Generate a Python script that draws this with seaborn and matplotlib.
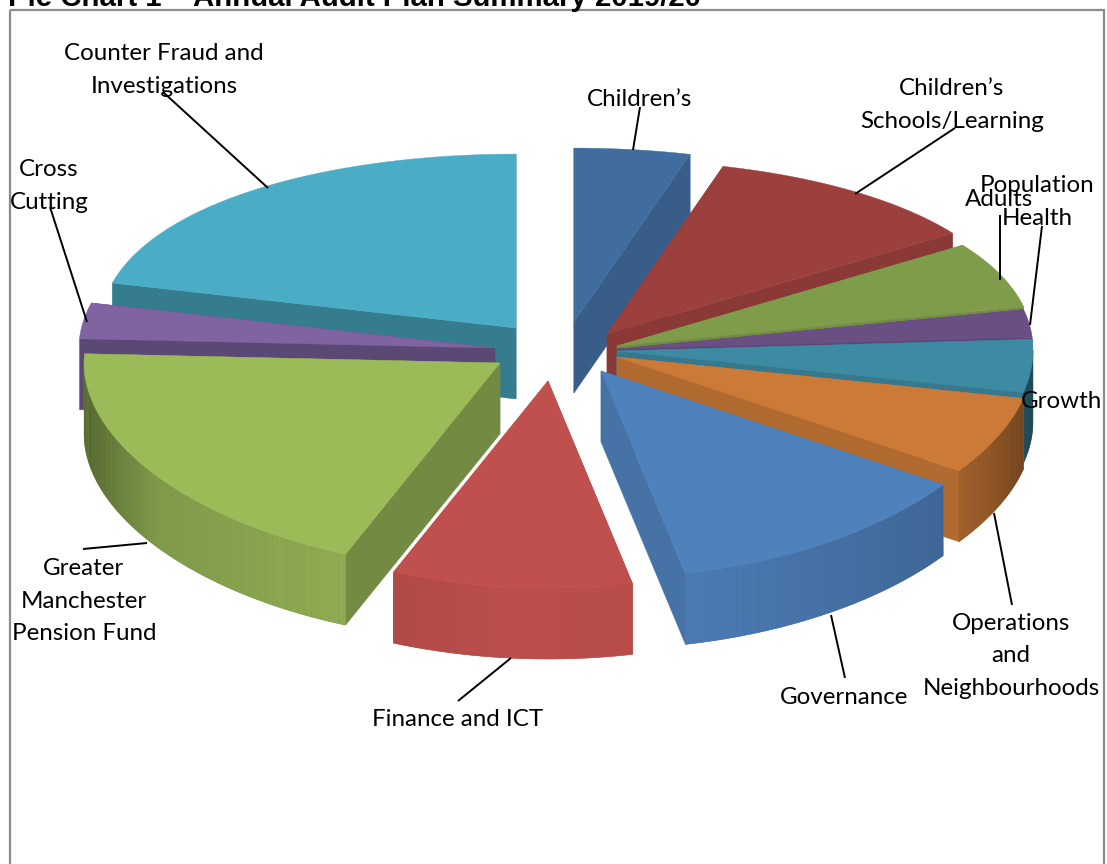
import numpy as np
import matplotlib
matplotlib.use("Agg")
import matplotlib.pyplot as plt
from matplotlib.collections import PolyCollection
from matplotlib.colors import to_rgb
from matplotlib.patches import Rectangle
import seaborn as sns

# Share of the audit plan per area (percent), clockwise from 12 o'clock
AREAS = ["Children's", "Children's Schools/Learning", "Adults", "Population Health",
         "Growth", "Operations and Neighbourhoods", "Governance", "Finance and ICT",
         "Greater Manchester Pension Fund", "Cross Cutting", "Counter Fraud and Investigations"]
SHARES = [4.5, 11.1, 6.0, 2.4, 4.4, 6.2, 12.1, 9.3, 19.7, 3.1, 21.1]

# Slice appearance
TOP_COLOURS = ["#406C9E", "#9C403E", "#7F9C4A", "#6A4F85", "#3D8AA3", "#CB7A37",
               "#4F81BD", "#C0504D", "#9BBB59", "#8064A2", "#4BACC6"]
WALL_SHADE = [0.86, 0.89, 0.90, 0.88, 0.88, 0.87, 0.88, 0.90, 0.74, 0.72, 0.72]
# Sideways and vertical pull of each exploded slice, in pixels
PULL_X = [14, 47, 57, 57, 57, 57, 41, -12, -60, -65, -44]
PULL_Y = [-28, -16, -4, -1, 1, 7, 21, 31, 13, -2, -22]
# Back-to-front drawing order
DRAW_ORDER = [0, 10, 1, 2, 3, 4, 5, 9, 8, 7, 6]

LABELS = [
    ("Counter Fraud and\nInvestigations", 164, 70),
    ("Children\u2019s", 640, 99),
    ("Children\u2019s\nSchools/Learning", 952, 105),
    ("Population\nHealth", 1037, 202),
    ("Adults", 999, 200),
    ("Growth", 1061, 402),
    ("Operations\nand\nNeighbourhoods", 1011, 656),
    ("Governance", 844, 697),
    ("Finance and ICT", 458, 720),
    ("Greater\nManchester\nPension Fund", 84, 601),
    ("Cross\nCutting", 49, 186),
]
LEADERS = [
    ((163, 92), (268, 188)), ((50, 207), (87, 322)), ((83, 549), (147, 543)),
    ((458, 701), (511, 658)), ((845, 678), (831, 615)), ((1012, 605), (994, 513)),
    ((1042, 226), (1030, 325)), ((1000, 215), (1000, 280)), ((955, 128), (855, 194)),
    ((640, 107), (633, 150)),
]

CX, CY = 560, 350
RX, RY = 416, 190.5
TILT = 0.087      # makes the near rim larger than the far rim
DEPTH = 71

sns.set_theme(style="white")
palette = sns.color_palette(TOP_COLOURS)

fig = plt.figure(figsize=(11.07, 8.64), dpi=100)
ax = fig.add_axes([0, 0, 1, 1])
ax.set_xlim(0, 1107)
ax.set_ylim(864, 0)
ax.axis("off")


def rim(theta_deg, ox, oy):
    t = np.radians(theta_deg)
    c = np.cos(t)
    return ox + RX * np.sin(t), oy - RY * c * (1 - TILT * c)


def rim_light(theta_deg):
    # Lighting of the curved wall: brightest at the front, dark at the sides
    return np.interp(theta_deg, [90, 105, 123, 168, 185, 201, 225, 235, 243, 254, 270],
                     [0.5, 0.58, 0.78, 0.95, 0.98, 0.92, 0.85, 0.82, 0.72, 0.6, 0.48])


shares = np.array(SHARES, dtype=float)
edges = np.concatenate([[0], np.cumsum(shares / shares.sum() * 360)])

for i in DRAW_ORDER:
    layer = 1 + DRAW_ORDER.index(i)
    base = np.array(to_rgb(palette[i]))
    ox, oy = CX + PULL_X[i], CY + PULL_Y[i]
    thetas = np.linspace(edges[i], edges[i + 1], max(8, int(edges[i + 1] - edges[i])))
    xs, ys = rim(thetas, ox, oy)
    wall = base * WALL_SHADE[i]

    # Flat cut faces of the wedge
    for px, py in ((xs[0], ys[0]), (xs[-1], ys[-1])):
        ax.fill([ox, px, px, ox], [oy, py, py + DEPTH, oy + DEPTH],
                facecolor=wall, edgecolor=wall, linewidth=0.3, zorder=layer)

    # Curved outer wall, only where it faces the viewer: a solid backing
    # with narrow shaded strips laid over it
    front = np.cos(np.radians(thetas)) <= 0.01
    if front.sum() >= 2:
        fx, fy, ft = xs[front], ys[front], thetas[front]
        backing = np.clip(base * rim_light(ft.mean()), 0, 1)
        ax.fill(np.r_[fx, fx[::-1]], np.r_[fy, fy[::-1] + DEPTH], facecolor=backing,
                edgecolor=backing, linewidth=0.3, zorder=layer)
        strips = [[(fx[k], fy[k]), (fx[k + 1], fy[k + 1]),
                   (fx[k + 1], fy[k + 1] + DEPTH), (fx[k], fy[k] + DEPTH)]
                  for k in range(len(fx) - 1)]
        shades = [tuple(np.clip(base * rim_light(m), 0, 1))
                  for m in 0.5 * (ft[:-1] + ft[1:])]
        ax.add_collection(PolyCollection(strips, facecolors=shades, edgecolors="none",
                                         linewidths=0, zorder=layer))

    # Top face
    ax.fill(np.r_[ox, xs], np.r_[oy, ys], facecolor=base, edgecolor=base,
            linewidth=0.3, zorder=layer + 0.5)

for start, end in LEADERS:
    ax.plot([start[0], end[0]], [start[1], end[1]], color="black", lw=1.4, zorder=30,
            solid_capstyle="butt")

for text, x, y in LABELS:
    ax.text(x, y, text, ha="center", va="center", family="Lato", fontsize=17.4,
            color="black", linespacing=1.7, zorder=40)

# Chart frame and the heading above it
ax.add_patch(Rectangle((9.5, 9.5), 1094, 900, fill=False, edgecolor="#8c8c8c", lw=1.6, zorder=50))
ax.text(8, 5.5, "Pie Chart 1 \u2013 Annual Audit Plan Summary 2019/20", ha="left", va="baseline",
        family="Liberation Sans", fontweight="bold", fontsize=21.2, color="black", zorder=60)

fig.savefig("out.png", dpi=100)
